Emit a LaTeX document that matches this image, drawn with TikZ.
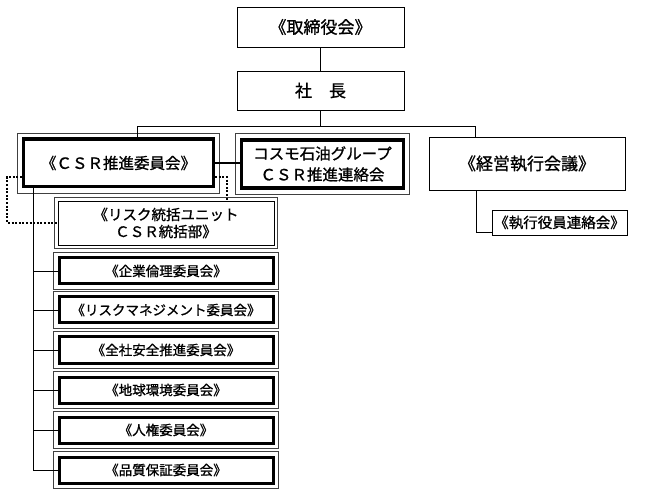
\documentclass[tikz,border=0pt]{standalone}
\usepackage{fontspec}
\newfontfamily\jpfont[FakeBold=1]{Noto Sans CJK JP}
\usetikzlibrary{positioning,calc}

\begin{document}
\begin{tikzpicture}[x=1pt,y=-1pt,
	box/.style={draw, line width=0.8pt, fill=white, inner sep=0pt, align=center,
		font=\jpfont\fontsize{17}{21}\selectfont},
	heavy/.style={box, line width=3.5pt, font=\jpfont\fontsize{15.5}{21}\selectfont},
	comm/.style={box, line width=3pt, minimum width=214, minimum height=26,
		font=\jpfont\fontsize{13.5}{16}\selectfont},
	frame/.style={line width=0.7pt, black!75},
	link/.style={line width=0.8pt},
	dots/.style={line width=2pt, dash pattern=on 2pt off 1.6pt}]
	\useasboundingbox (0,0) rectangle (648,494);
	
	\node[box, minimum width=167, minimum height=40] (board) at (320.5,27) {《取締役会》};
	\node[box, minimum width=167, minimum height=39] (pres) at (320.5,90.5) {社　長};
	
	\node[heavy, minimum width=190, minimum height=47.5] (csr) at (118.5,163) {《ＣＳＲ推進委員会》};
	\node[heavy, minimum width=162, minimum height=48] (cosmo) at (322.5,164) {コスモ石油グループ\\ＣＳＲ推進連絡会};
	\node[box, minimum width=196, minimum height=53] (keiei) at (527,163.5) {《経営執行会議》};
	\node[box, minimum width=135, minimum height=25, font=\jpfont\fontsize{14.5}{16}\selectfont] (shikko) at (559.5,222.5) {《執行役員連絡会》};
	
	\node[box, minimum width=216, minimum height=44, font=\jpfont\fontsize{14.5}{17}\selectfont] (risk) at (166,223) {《リスク統括ユニット\\ＣＳＲ統括部》};
	\foreach \n/\y/\t in {c1/271/《企業倫理委員会》, c2/310/《リスクマネジメント委員会》,
		c3/350/《全社安全推進委員会》, c4/390/《地球環境委員会》,
		c5/430/《人権委員会》, c6/470/《品質保証委員会》}
		\node[comm] (\n) at (166,\y) {\t};
	
	% outer frames
	\foreach \n/\d in {csr/4.5, cosmo/4.5, risk/3, c1/4, c2/4, c3/4, c4/4, c5/4, c6/4}
		\draw[frame] ($(\n.north west)+(-\d,-\d)$) rectangle ($(\n.south east)+(\d,\d)$);
	
	\coordinate (bus) at ($(pres.south)+(0,16.5)$);
	\coordinate (trunk) at ($(csr.south)+(-85.5,0)$);
	
	\draw[link] (board.south) -- (pres.north);
	\draw[link] (pres.south) -- (bus);
	\draw[link] (bus) -| ([xshift=18.5]csr.north);
	\draw[link] (bus) -| ([xshift=-52]keiei.north);
	\draw[line width=1.5pt] (csr.east) -- (csr.east -| cosmo.west);
	\draw[link] ([xshift=-51]keiei.south) |- ([yshift=-9.5]shikko.west);
	\foreach \n in {c1,c2,c3,c4,c5,c6}
		\draw[link] (trunk) |- (\n.west);
	
	\draw[dots] ([yshift=-14]csr.west) -- ++(-14.5,0) |- (risk.west);
	\draw[dots] ([yshift=-14]csr.east) -| ([xshift=61]risk.north);
\end{tikzpicture}
\end{document}
